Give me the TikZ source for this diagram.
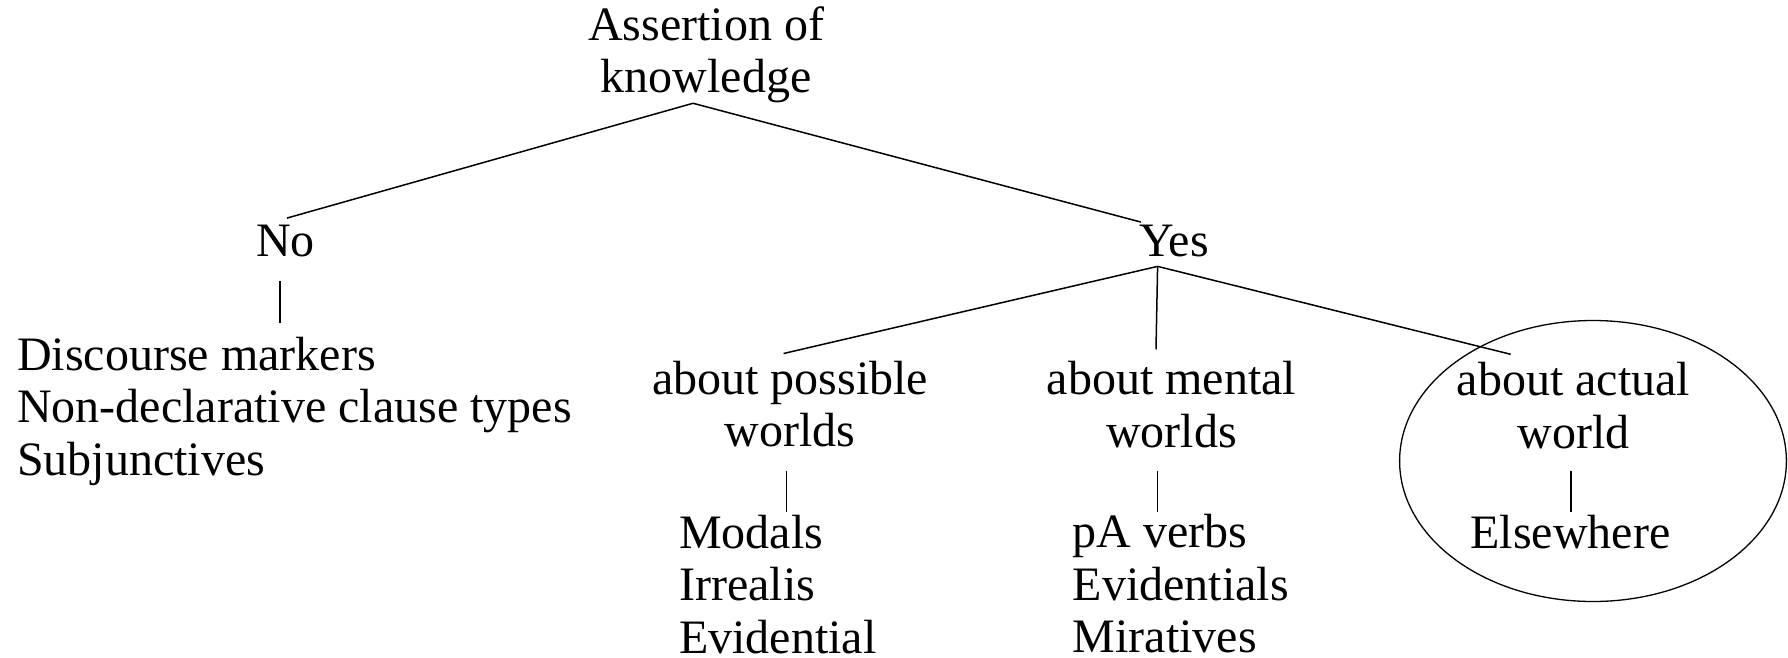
\documentclass[tikz,border=0pt]{standalone}
\usepackage{fontspec}
\setmainfont{Liberation Serif}
\usetikzlibrary{shapes.geometric}
\begin{document}
\begin{tikzpicture}[x=1pt,y=-1pt,
  lbl/.style={inner sep=0pt, font=\fontsize{48}{52.5}\selectfont},
  ctr/.style={lbl, align=center, anchor=base},
  lst/.style={lbl, align=left, anchor=base west},
  edge/.style={line width=1.5pt},
  ring/.style={draw, ellipse, line width=1.3pt, inner sep=0pt}]
\useasboundingbox (0,0) rectangle (1788,657);
% nodes (anchor = baseline of the last line)
\node[ctr] (root) at (706,92.7) {Assertion of\\knowledge};
\node[ctr] (no) at (285.6,256.7) {No};
\node[ctr] (yes) at (1174,256.7) {Yes};
\node[lst] (nolist) at (17,475) {Discourse markers\\Non-declarative clause types\\Subjunctives};
\node[ctr] (poss) at (790,446.7) {about possible\\worlds};
\node[ctr] (mental) at (1171.6,447.3) {about mental\\worlds};
\node[ctr] (actual) at (1573.5,448.3) {about actual\\world};
\node[lst] (posslist) at (679,653.3) {Modals\\Irrealis\\Evidential};
\node[lst] (mentlist) at (1072.7,652.7) {pA verbs\\Evidentials\\Miratives};
\node[ctr] (else) at (1570.5,548.3) {Elsewhere};
\node[ring, minimum width=386.8pt, minimum height=281pt] (circ) at (1593,461) {};
% connectors
\coordinate (rootB) at ([xshift=-13pt]root.south);
\coordinate (yesB) at ([shift={(-16.4pt,-9pt)}]yes.south);
\draw[edge] (rootB) -- ([shift={(1.4pt,7pt)}]no.north);
\draw[edge] (rootB) -- ([shift={(2pt,3pt)}]yes.north west);
\draw[edge] ([shift={(-5.6pt,-24pt)}]no.south) -- ++(0,41.6);
\draw[edge] (yesB) -- ([shift={(-6.4pt,7.2pt)}]poss.north);
\draw[edge] (yesB) -- ([shift={(-15.6pt,12pt)}]mental.north);
\draw[edge] (yesB) -- ([shift={(54pt,8pt)}]actual.north west);
\draw[edge] ([shift={(-3.5pt,-23.3pt)}]poss.south) -- ++(0,41.7);
\draw[edge] ([shift={(-14pt,-22.7pt)}]mental.south) -- ++(0,41.7);
\draw[edge] ([shift={(-2.5pt,-21.7pt)}]actual.south) -- ++(0,41.7);
\end{tikzpicture}
\end{document}
